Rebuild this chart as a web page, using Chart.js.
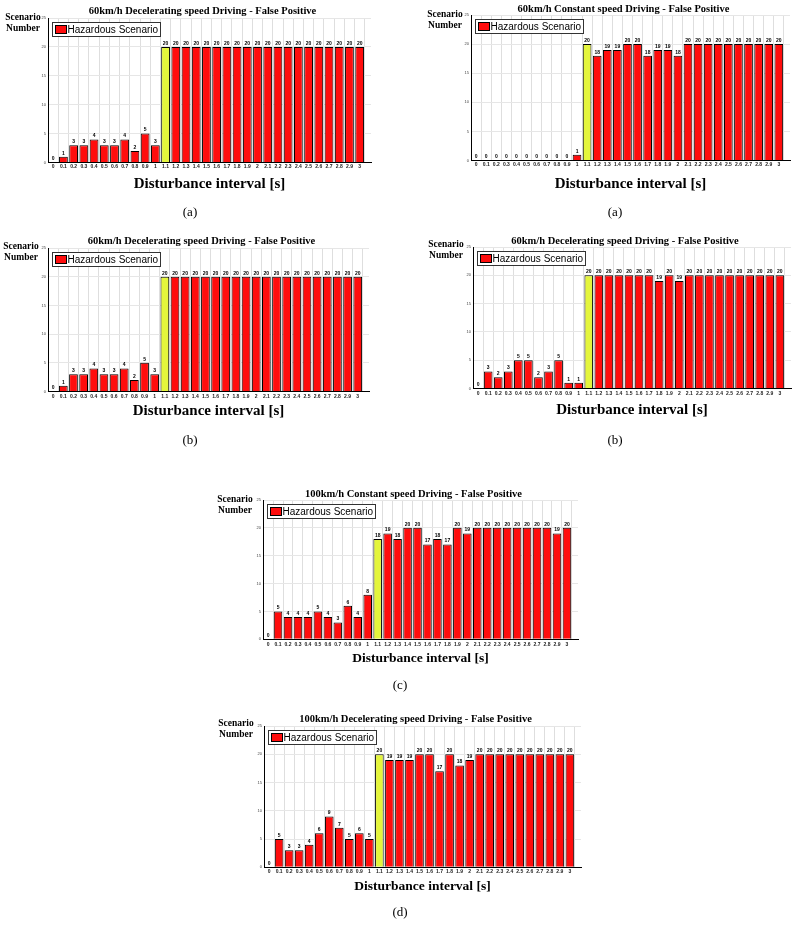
<!DOCTYPE html>
<html><head><meta charset="utf-8">
<script src="https://cdn.jsdelivr.net/npm/chart.js@4.4.0/dist/chart.umd.min.js"></script>
<style>
html,body{margin:0;padding:0;background:#fff;}
body{width:800px;height:925px;position:relative;overflow:hidden;}
canvas{position:absolute;}
.sn{position:absolute;width:60px;margin-left:-30px;font:bold 9.5px "Liberation Serif",serif;text-align:center;line-height:11px;white-space:nowrap;color:#000;will-change:transform;}
.cap{position:absolute;width:60px;margin-left:-30px;height:16px;margin-top:-8px;line-height:16px;text-align:center;font:13px "Liberation Serif",serif;color:#000;will-change:transform;}
</style></head><body>
<script>
// ---------------- data ----------------
const categories = [0,0.1,0.2,0.3,0.4,0.5,0.6,0.7,0.8,0.9,1,1.1,1.2,1.3,1.4,1.5,1.6,1.7,1.8,1.9,2,2.1,2.2,2.3,2.4,2.5,2.6,2.7,2.8,2.9,3];
const xTickLabels = ['0','0.1','0.2','0.3','0.4','0.5','0.6','0.7','0.8','0.9','1','1.1','1.2','1.3','1.4','1.5','1.6','1.7','1.8','1.9','2','2.1','2.2','2.3','2.4','2.5','2.6','2.7','2.8','2.9','3'];
const yTickValues = [0,5,10,15,20,25];
const seriesLabel = 'Hazardous Scenario';
const highlightCategory = 1.1;
const yAxisLabel = ['Scenario','Number'];
const xAxisLabel = 'Disturbance interval [s]';

const titleDecel60 = '60km/h Decelerating speed Driving - False Positive';
const titleConst60 = '60km/h Constant speed Driving - False Positive';
const titleConst100 = '100km/h Constant speed Driving - False Positive';
const titleDecel100 = '100km/h Decelerating speed Driving - False Positive';

const decel60A  = [0,1,3,3,4,3,3,4,2,5,3, 20,20,20,20,20,20,20,20,20,20, 20,20,20,20,20,20,20,20,20,20];
const const60A  = [0,0,0,0,0,0,0,0,0,0,1, 20,18,19,19,20,20,18,19,19,18, 20,20,20,20,20,20,20,20,20,20];
const decel60B  = [0,1,3,3,4,3,3,4,2,5,3, 20,20,20,20,20,20,20,20,20,20, 20,20,20,20,20,20,20,20,20,20];
const decel60B2 = [0,3,2,3,5,5,2,3,5,1,1, 20,20,20,20,20,20,20,19,20,19, 20,20,20,20,20,20,20,20,20,20];
const const100C = [0,5,4,4,4,5,4,3,6,4,8, 18,19,18,20,20,17,18,17,20,19, 20,20,20,20,20,20,20,20,19,20];
const decel100D = [0,5,3,3,4,6,9,7,5,6,5, 20,19,19,19,20,20,17,20,18,19, 20,20,20,20,20,20,20,20,20,20];

// ---------------- layout / style ----------------
const RED = '#ff0d0d', YELLOW = '#e4f53c';
const xMax = 3.06;
const panels = [
  {title:titleDecel60,  values:decel60A,  L:48,  T:18,  B:162, x3:365, titleY:11,  xlabY:166, xtitleY:184, xts:15,   sn:[23,12],  cap:['(a)',190,212]},
  {title:titleConst60,  values:const60A,  L:471, T:15,  B:160, x3:784, titleY:9,   xlabY:164, xtitleY:184, xts:15,   sn:[445,9],  cap:['(a)',615,212]},
  {title:titleDecel60,  values:decel60B,  L:48,  T:248, B:391, x3:363, titleY:241, xlabY:396, xtitleY:411, xts:15,   sn:[21,241], cap:['(b)',190,440]},
  {title:titleDecel60,  values:decel60B2, L:473, T:247, B:388, x3:785, titleY:241, xlabY:393, xtitleY:410, xts:15,   sn:[446,239],cap:['(b)',615,440]},
  {title:titleConst100, values:const100C, L:263, T:500, B:639, x3:572, titleY:494, xlabY:644, xtitleY:658, xts:13.5, sn:[235,494],cap:['(c)',400,685]},
  {title:titleDecel100, values:decel100D, L:264, T:726, B:867, x3:575, titleY:719, xlabY:871, xtitleY:886, xts:13.5, sn:[236,718],cap:['(d)',400,912]}
];

const valueLabels = {
  id:'valueLabels',
  afterDatasetsDraw(chart){
    const ctx = chart.ctx;
    const meta = chart.getDatasetMeta(0);
    const data = chart.data.datasets[0].data;
    ctx.save();
    ctx.font = 'bold 5px "Liberation Sans", Arial, sans-serif';
    ctx.fillStyle = '#000';
    ctx.textAlign = 'center';
    ctx.textBaseline = 'bottom';
    meta.data.forEach((bar,i)=>{
      ctx.fillText(String(data[i].y), bar.x, bar.y - 1);
    });
    ctx.restore();
  }
};

const boxLegend = {
  id:'boxLegend',
  afterDraw(chart){
    const ctx = chart.ctx, a = chart.chartArea;
    const x = a.left + 4.5, y = a.top + 4.5, w = 108, h = 14;
    ctx.save();
    ctx.fillStyle = '#fff';
    ctx.fillRect(x, y, w, h);
    ctx.strokeStyle = '#333';
    ctx.lineWidth = 1;
    ctx.strokeRect(x, y, w, h);
    ctx.fillStyle = RED;
    ctx.fillRect(x + 3, y + 3, 11, 8);
    ctx.strokeStyle = '#000';
    ctx.strokeRect(x + 3, y + 3, 11, 8);
    ctx.fillStyle = '#000';
    ctx.font = '10px "Liberation Sans", Arial, sans-serif';
    ctx.textBaseline = 'middle';
    ctx.textAlign = 'left';
    ctx.fillText(chart.data.datasets[0].label, x + 15, y + h/2 + 0.5);
    ctx.restore();
  }
};

function makePanel(p){
  const yw = 14, padR = 20, titleSize = 10.5, padTop = 2, padB = 2;
  const R = Math.round(p.L + (p.x3 - p.L) * xMax / 3);
  const cTop = Math.round(p.titleY - titleSize/2 - padTop);
  const titleGap = p.T - cTop - padTop - titleSize;
  const xh = p.xtitleY - p.B + p.xts/2;
  const cLeft = p.L - yw;
  const W = R + padR - cLeft;
  const H = Math.round(p.B + xh + padB - cTop);

  const cv = document.createElement('canvas');
  cv.width = W; cv.height = H;
  cv.style.left = cLeft + 'px'; cv.style.top = cTop + 'px';
  cv.style.width = W + 'px'; cv.style.height = H + 'px';
  document.body.appendChild(cv);

  const sn = document.createElement('div');
  sn.className = 'sn';
  sn.style.left = p.sn[0] + 'px'; sn.style.top = p.sn[1] + 'px';
  sn.innerHTML = yAxisLabel.join('<br>');
  document.body.appendChild(sn);

  const cap = document.createElement('div');
  cap.className = 'cap';
  cap.textContent = p.cap[0];
  cap.style.left = p.cap[1] + 'px'; cap.style.top = p.cap[2] + 'px';
  document.body.appendChild(cap);

  new Chart(cv, {
    type:'bar',
    data:{
      datasets:[{
        label: seriesLabel,
        data: categories.map((c,i)=>({x:c, y:p.values[i]})),
        backgroundColor: categories.map(c => c === highlightCategory ? YELLOW : RED),
        borderColor:'#000',
        borderWidth:1,
        categoryPercentage:0.86,
        barPercentage:1
      }]
    },
    options:{
      responsive:false,
      animation:false,
      devicePixelRatio:1,
      layout:{padding:{top:0,left:0,right:padR,bottom:padB}},
      plugins:{
        legend:{display:false},
        tooltip:{enabled:false},
        title:{
          display:true, text:p.title, color:'#000',
          font:{family:'"Liberation Serif", serif', size:titleSize, weight:'bold', lineHeight:1},
          padding:{top:padTop, bottom:titleGap}
        }
      },
      scales:{
        x:{
          type:'linear', min:0, max:xMax,
          afterBuildTicks: s => { s.ticks = categories.map(v => ({value:v})); },
          afterFit: s => { s.height = xh; },
          grid:{color:'#dedede', drawTicks:false, lineWidth:1},
          border:{color:'#000', width:1},
          ticks:{
            autoSkip:false, maxRotation:0, minRotation:0,
            padding: Math.max(0, p.xlabY - p.B - 3),
            color:'#222',
            font:{family:'"Liberation Sans", Arial, sans-serif', size:5, weight:'bold'},
            callback:(v,i)=> xTickLabels[i]
          },
          title:{
            display:true, text:xAxisLabel, color:'#000', padding:0,
            font:{family:'"Liberation Serif", serif', size:p.xts, weight:'bold', lineHeight:1}
          }
        },
        y:{
          min:0, max:25,
          afterBuildTicks: s => { s.ticks = yTickValues.map(v => ({value:v})); },
          afterFit: s => { s.width = yw; },
          grid:{color:'#e6e6e6', drawTicks:false, lineWidth:1},
          border:{color:'#000', width:1},
          ticks:{
            padding:2, color:'#444',
            font:{family:'"Liberation Sans", Arial, sans-serif', size:4}
          }
        }
      }
    },
    plugins:[valueLabels, boxLegend]
  });
}
panels.forEach(makePanel);
</script>
</body></html>
